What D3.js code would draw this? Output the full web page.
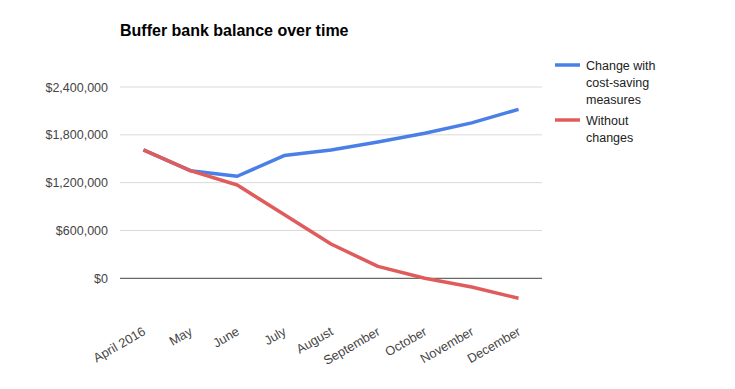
<!DOCTYPE html>
<html>
<head>
<meta charset="utf-8">
<script src="https://cdn.jsdelivr.net/npm/d3@7"></script>
<style>
  body { margin: 0; background: #fff; }
  text { font-family: "Liberation Sans", Arial, sans-serif; }
</style>
</head>
<body>
<div id="chart"></div>
<script>
var months = ["April 2016", "May", "June", "July", "August", "September", "October", "November", "December"];
var withChanges = [1610000, 1350000, 1280000, 1540000, 1610000, 1710000, 1820000, 1950000, 2120000];
var withoutChanges = [1610000, 1350000, 1170000, 800000, 430000, 150000, 0, -110000, -250000];
var yTicks = [0, 600000, 1200000, 1800000, 2400000];
var legendItems = [
  {lines: ["Change with", "cost-saving", "measures"], color: "#4a7fe8"},
  {lines: ["Without", "changes"], color: "#e05c5c"}
];

var width = 735, height = 389;
var margin = {left: 120, right: 193};

var svg = d3.select("#chart")
    .append("svg")
    .attr("width", width)
    .attr("height", height);

var x = d3.scalePoint()
    .domain(months)
    .range([margin.left, width - margin.right])
    .padding(0.5);

// 0 sits at y=278, 2.4M at y=87
var y = d3.scaleLinear()
    .domain([0, 2400000])
    .range([278.3, 87]);

svg.append("text")
    .attr("x", 120)
    .attr("y", 36)
    .attr("font-size", 16)
    .attr("font-weight", "bold")
    .attr("fill", "#000")
    .text("Buffer bank balance over time");

// gridlines
svg.selectAll(".grid")
    .data(yTicks)
    .enter()
    .append("line")
    .attr("class", "grid")
    .attr("x1", margin.left)
    .attr("x2", width - margin.right)
    .attr("y1", function(d){ return y(d) })
    .attr("y2", function(d){ return y(d) })
    .attr("stroke", function(d){ return d === 0 ? "#444" : "#d9d9d9" })
    .attr("stroke-width", 1);

var fmt = d3.format("$,");
svg.selectAll(".ylabel")
    .data(yTicks)
    .enter()
    .append("text")
    .attr("class", "ylabel")
    .attr("x", 108)
    .attr("y", function(d){ return y(d) + 4.5 })
    .attr("text-anchor", "end")
    .attr("font-size", 12.5)
    .attr("fill", "#444")
    .text(function(d){ return fmt(d) });

svg.selectAll(".xlabel")
    .data(months)
    .enter()
    .append("text")
    .attr("class", "xlabel")
    .attr("text-anchor", "end")
    .attr("font-size", 12.8)
    .attr("fill", "#444")
    .attr("transform", function(d){ return "translate(" + (x(d) + 3) + ",334) rotate(-30)" })
    .text(function(d){ return d });

var line = d3.line()
    .x(function(d, i){ return x(months[i]) })
    .y(function(d){ return y(d) });

svg.append("path")
    .datum(withChanges)
    .attr("d", line)
    .attr("fill", "none")
    .attr("stroke", legendItems[0].color)
    .attr("stroke-width", 3.5)
    .attr("stroke-linejoin", "round");

svg.append("path")
    .datum(withoutChanges)
    .attr("d", line)
    .attr("fill", "none")
    .attr("stroke", legendItems[1].color)
    .attr("stroke-width", 3.5)
    .attr("stroke-linejoin", "round");

// legend
var legendY = [65, 120];
var lg = svg.selectAll(".legend")
    .data(legendItems)
    .enter()
    .append("g")
    .attr("class", "legend")
    .attr("transform", function(d, i){ return "translate(555," + legendY[i] + ")" });

lg.append("line")
    .attr("x1", 0)
    .attr("x2", 25)
    .attr("stroke", function(d){ return d.color })
    .attr("stroke-width", 3.5);

lg.each(function(d){
    var g = d3.select(this);
    d.lines.forEach(function(t, j){
        g.append("text")
            .attr("x", 31)
            .attr("y", j * 17 + 4.5)
            .attr("font-size", 12.5)
            .attr("fill", "#222")
            .text(t);
    });
});
</script>
</body>
</html>
